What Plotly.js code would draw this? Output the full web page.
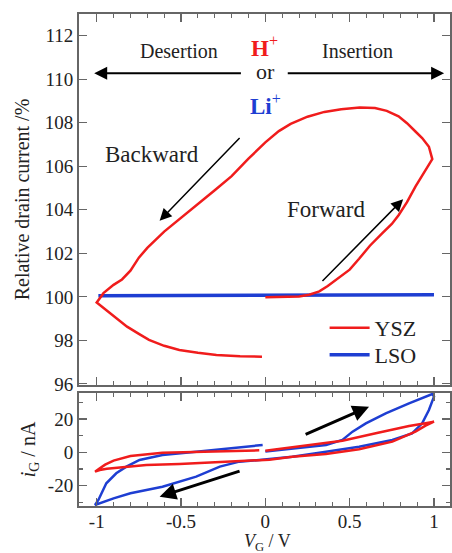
<!DOCTYPE html>
<html>
<head>
<meta charset="utf-8">
<script src="https://cdn.plot.ly/plotly-3.0.1.min.js"></script>
<style>html,body{margin:0;padding:0;background:#fff;}#chart{width:452px;height:553px;}</style>
</head>
<body>
<div id="chart"></div>
<script>
// ---- Data ----
// Top panel: relative drain current (%) vs gate voltage (V)
var yszTopV = [0, 0.1, 0.2, 0.26, 0.32, 0.37, 0.42, 0.5, 0.556, 0.62, 0.694, 0.75, 0.79, 0.84, 0.89, 0.94, 0.99,
  0.97, 0.93, 0.89, 0.84, 0.79, 0.72, 0.65, 0.56, 0.45, 0.35, 0.25, 0.15, 0.08, 0.0, -0.1, -0.2, -0.3, -0.4, -0.5, -0.6, -0.7, -0.75, -0.8, -0.85, -0.9, -0.96, -1.0,
  -0.96, -0.92, -0.87, -0.82, -0.75, -0.69, -0.6, -0.51, -0.4, -0.29, -0.15, -0.02];
var yszTopI = [99.98, 99.99, 100.02, 100.1, 100.25, 100.5, 100.78, 101.25, 101.75, 102.35, 102.93, 103.35, 103.75, 104.35, 105.07, 105.7, 106.33,
  106.9, 107.3, 107.6, 107.98, 108.3, 108.55, 108.68, 108.7, 108.62, 108.5, 108.28, 107.95, 107.62, 107.1, 106.35, 105.55, 104.9, 104.27, 103.65, 103.0, 102.25, 101.8, 101.2, 100.8, 100.55, 100.17, 99.74,
  99.5, 99.25, 98.92, 98.63, 98.3, 98.02, 97.75, 97.56, 97.43, 97.33, 97.27, 97.25];
var lsoTopV = [-0.99, -0.5, 0, 0.5, 1.0];
var lsoTopI = [100.05, 100.05, 100.07, 100.09, 100.1];

// Bottom panel: gate current (nA) vs gate voltage (V)
var yszBotV = [0.0, 0.22, 0.457, 0.655, 0.852, 0.95, 1.0,
  0.95, 0.89, 0.753, 0.556, 0.359, 0.16, 0.024, -0.213, -0.509, -0.706, -0.864, -0.94, -0.982, -1.01,
  -0.99, -0.95, -0.9, -0.8, -0.61, -0.31, -0.036];
var yszBotI = [1.0, 3.8, 7.0, 11.4, 15.8, 17.5, 18.4,
  16.0, 12.4, 6.4, 1.8, -1.0, -2.6, -4.4, -5.6, -7.0, -7.6, -9.0, -9.8, -10.6, -11.6,
  -10.2, -7.4, -5.0, -2.2, -0.2, 0.6, 1.2];
var lsoBotV = [0.0, 0.16, 0.36, 0.457, 0.517, 0.596, 0.714, 0.852, 0.99,
  1.0, 0.97, 0.93, 0.87, 0.753, 0.556, 0.36, 0.16, -0.036, -0.154, -0.27, -0.41, -0.61, -0.8, -0.9, -1.01,
  -0.99, -0.972, -0.943, -0.884, -0.824, -0.746, -0.61, -0.41, -0.21, -0.016];
var lsoBotI = [0.5, 2.4, 4.4, 7.4, 12.4, 17.4, 23.4, 29.4, 35.0,
  33.4, 25.4, 17.4, 11.4, 7.4, 3.4, 0.4, -2.6, -4.6, -5.6, -8.6, -14.6, -20.6, -24.6, -27.6, -31.6,
  -28.6, -24.6, -18.6, -12.6, -8.6, -4.6, -1.6, 0.4, 2.4, 4.4];

// Tick labels
var xTickVals = [-1, -0.5, 0, 0.5, 1];
var xTickText = ['-1', '-0.5', '0', '0.5', '1'];
var yTopTickVals = [96, 98, 100, 102, 104, 106, 108, 110, 112];
var yTopTickText = ['96', '98', '100', '102', '104', '106', '108', '110', '112'];
var yBotTickVals = [-20, 0, 20];
var yBotTickText = ['-20', '0', '20'];

var RED = '#f01c1c';
var BLUE = '#1e3ed2';
var FONT = 'Liberation Serif';
var FRAME = '#666666';
var TXT = '#222';

var traces = [
  {x: lsoTopV, y: lsoTopI, xaxis: 'x2', yaxis: 'y2', mode: 'lines', name: 'LSO', legend: 'legend2',
   line: {color: BLUE, width: 3.5}},
  {x: yszTopV, y: yszTopI, xaxis: 'x2', yaxis: 'y2', mode: 'lines', name: 'YSZ', legend: 'legend',
   line: {color: RED, width: 2.5}},
  {x: lsoBotV, y: lsoBotI, xaxis: 'x', yaxis: 'y', mode: 'lines', showlegend: false,
   line: {color: BLUE, width: 2.5}},
  {x: yszBotV, y: yszBotI, xaxis: 'x', yaxis: 'y', mode: 'lines', showlegend: false,
   line: {color: RED, width: 2.5}}
];

function xAxisBase() {
  return {
    range: [-1.105, 1.095], tickmode: 'array', tickvals: xTickVals, ticktext: xTickText,
    ticks: 'inside', ticklen: 8, tickwidth: 1.2, tickcolor: FRAME,
    minor: {dtick: 0.1, tick0: 0, ticks: 'inside', ticklen: 4, tickcolor: FRAME, tickwidth: 1},
    showline: true, linecolor: FRAME, linewidth: 2, mirror: 'ticks',
    showgrid: false, zeroline: false,
    tickfont: {family: FONT, size: 19, color: TXT}
  };
}
var xa = xAxisBase();
xa.anchor = 'y';
xa.ticklabelstandoff = -3;
var xa2 = xAxisBase();
xa2.anchor = 'y2';
xa2.matches = 'x';
xa2.showticklabels = false;

var legendBase = function (yc) {
  return {x: 0.662, y: yc, xanchor: 'left', yanchor: 'middle', bgcolor: 'rgba(0,0,0,0)',
    font: {family: FONT, size: 22, color: TXT}, itemwidth: 40};
};

var layout = {
  width: 452, height: 553,
  margin: {l: 79, r: 2, t: 14, b: 47},
  paper_bgcolor: '#fff', plot_bgcolor: '#fff',
  showlegend: true,
  legend: legendBase(0.3618),
  legend2: legendBase(0.3069),
  xaxis: xa,
  xaxis2: xa2,
  yaxis: {
    domain: [0, 0.2297], anchor: 'x', range: [-32.2, 35.6],
    tickmode: 'array', tickvals: yBotTickVals, ticktext: yBotTickText,
    ticks: 'inside', ticklen: 8, tickwidth: 1.2, tickcolor: FRAME,
    minor: {dtick: 10, tick0: 0, ticks: 'inside', ticklen: 4, tickcolor: FRAME},
    showline: true, linecolor: FRAME, linewidth: 2, mirror: 'ticks',
    showgrid: false, zeroline: false,
    tickfont: {family: FONT, size: 19, color: TXT},
    title: {text: '<i>i</i><sub>G</sub> / nA', font: {family: FONT, size: 20, color: TXT}, standoff: 7}
  },
  yaxis2: {
    domain: [0.246, 1], anchor: 'x2', range: [95.95, 113.0],
    tickmode: 'array', tickvals: yTopTickVals, ticktext: yTopTickText,
    ticks: 'inside', ticklen: 8, tickwidth: 1.2, tickcolor: FRAME,
    showline: true, linecolor: FRAME, linewidth: 2, mirror: 'ticks',
    showgrid: false, zeroline: false,
    tickfont: {family: FONT, size: 19, color: TXT},
    title: {text: 'Relative drain current /%', font: {family: FONT, size: 20, color: TXT}, standoff: 10}
  },
  annotations: [
    // x-axis title (placed below the tick labels)
    {xref: 'paper', yref: 'paper', x: 0.507, y: -0.0735, xanchor: 'center', yanchor: 'middle',
     text: '<i>V</i><sub>G</sub> / V', showarrow: false, font: {family: FONT, size: 18, color: TXT}},
    {xref: 'x2', yref: 'y2', x: -0.51, y: 111.28, text: 'Desertion', showarrow: false, font: {family: FONT, size: 20, color: TXT}},
    {xref: 'x2', yref: 'y2', x: 0.545, y: 111.28, text: 'Insertion', showarrow: false, font: {family: FONT, size: 20, color: TXT}},
    {xref: 'x2', yref: 'y2', x: -0.005, y: 111.5, text: '<b>H</b><sup>+</sup>', showarrow: false, font: {family: FONT, size: 23, color: RED}},
    {xref: 'x2', yref: 'y2', x: 0.0, y: 110.38, text: 'or', showarrow: false, font: {family: FONT, size: 22, color: TXT}},
    {xref: 'x2', yref: 'y2', x: 0.0, y: 108.85, text: '<b>Li</b><sup>+</sup>', showarrow: false, font: {family: FONT, size: 23, color: BLUE}},
    {xref: 'x2', yref: 'y2', x: -0.67, y: 106.55, text: 'Backward', showarrow: false, font: {family: FONT, size: 23, color: TXT}},
    {xref: 'x2', yref: 'y2', x: 0.36, y: 104.0, text: 'Forward', showarrow: false, font: {family: FONT, size: 23, color: TXT}},
    // double arrow
    {xref: 'x2', yref: 'y2', axref: 'x2', ayref: 'y2', x: -1.015, y: 110.28, ax: -0.136, ay: 110.28, text: '', showarrow: true,
     arrowhead: 2, arrowsize: 1.3, arrowwidth: 2, arrowcolor: '#000', standoff: 0},
    {xref: 'x2', yref: 'y2', axref: 'x2', ayref: 'y2', x: 1.06, y: 110.28, ax: 0.124, ay: 110.28, text: '', showarrow: true,
     arrowhead: 2, arrowsize: 1.3, arrowwidth: 2, arrowcolor: '#000', standoff: 0},
    // backward / forward arrows, top
    {xref: 'x2', yref: 'y2', axref: 'x2', ayref: 'y2', x: -0.627, y: 103.5, ax: -0.144, ay: 107.37, text: '', showarrow: true,
     arrowhead: 2, arrowsize: 1.6, arrowwidth: 1.5, arrowcolor: '#000', standoff: 0},
    {xref: 'x2', yref: 'y2', axref: 'x2', ayref: 'y2', x: 0.817, y: 104.49, ax: 0.33, ay: 100.66, text: '', showarrow: true,
     arrowhead: 2, arrowsize: 1.6, arrowwidth: 1.5, arrowcolor: '#000', standoff: 0},
    // bottom arrows
    {xref: 'x', yref: 'y', axref: 'x', ayref: 'y', x: 0.615, y: 27.4, ax: 0.23, ay: 10.4, text: '', showarrow: true,
     arrowhead: 2, arrowsize: 1.1, arrowwidth: 3, arrowcolor: '#000', standoff: 0},
    {xref: 'x', yref: 'y', axref: 'x', ayref: 'y', x: -0.627, y: -26.6, ax: -0.144, ay: -11, text: '', showarrow: true,
     arrowhead: 2, arrowsize: 1.1, arrowwidth: 3, arrowcolor: '#000', standoff: 0}
  ]
};

Plotly.newPlot('chart', traces, layout, {staticPlot: true, displayModeBar: false});
</script>
</body>
</html>
